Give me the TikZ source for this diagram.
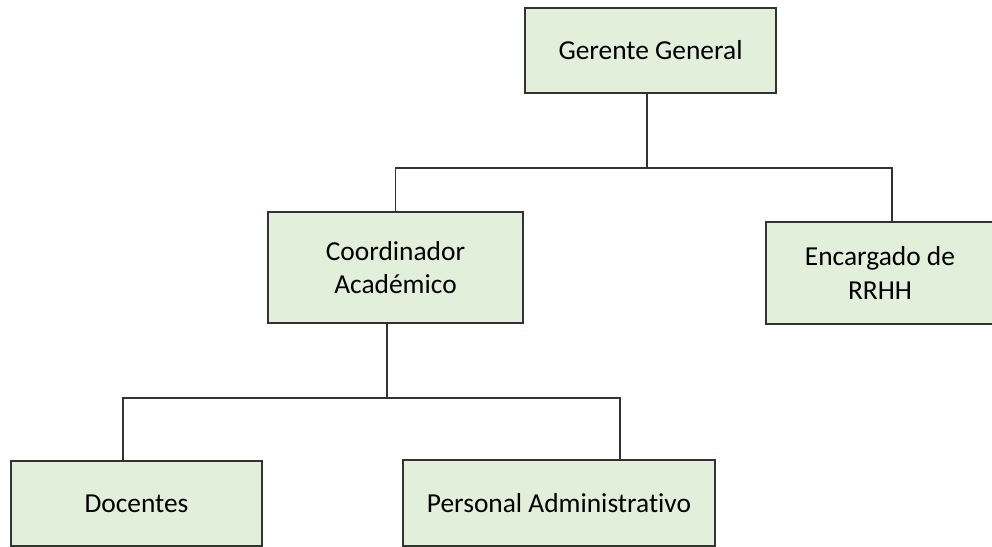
\documentclass[tikz,border=0pt]{standalone}
\usepackage{fontspec}
\setmainfont{Carlito}[Ligatures=NoCommon]
\usepackage{xcolor}
\definecolor{orgfill}{HTML}{E2EFDA}
\definecolor{orgline}{HTML}{333333}
\usetikzlibrary{positioning}
\newcommand{\pxu}{0.02cm}
\tikzset{
  orgbox/.style={draw=orgline,line width=1pt,fill=orgfill,inner sep=0pt,align=center,
    font=\fontsize{15.6}{18.8}\selectfont},
  orglink/.style={draw=black!80,line width=0.85pt}
}
\begin{document}
\begin{tikzpicture}[x=0.02cm,y=-0.02cm]
  \useasboundingbox (0,0) rectangle (992,547);
  \node[orgbox,minimum width=251*\pxu,minimum height=85*\pxu] (gerente) at (650.5,50.5) {Gerente General};
  \node[orgbox,minimum width=255*\pxu,minimum height=111*\pxu] (coord) at (395.5,267.5) {Coordinador\\Académico};
  \node[orgbox,minimum width=228*\pxu,minimum height=102*\pxu] (rrhh) at (880,273) {Encargado de\\RRHH};
  \node[orgbox,minimum width=251*\pxu,minimum height=85*\pxu] (docentes) at (136.5,503.5) {Docentes};
  \node[orgbox,minimum width=312*\pxu,minimum height=86*\pxu] (personal) at (559,503) {Personal Administrativo};
  \coordinate (top) at (647,168);
  \coordinate (rtop) at (892,168);
  \coordinate (mid) at (387,398);
  \coordinate (dl) at (123,398);
  \coordinate (pr) at (620,398);
  \draw[orglink] (gerente.south -| top) -- (top);
  \draw[orglink] (coord.north) |- (rtop) -- (rtop |- rrhh.north);
  \draw[orglink] (coord.south -| mid) -- (mid);
  \draw[orglink] (dl |- docentes.north) -- (dl) -- (pr) -- (pr |- personal.north);
\end{tikzpicture}
\end{document}
